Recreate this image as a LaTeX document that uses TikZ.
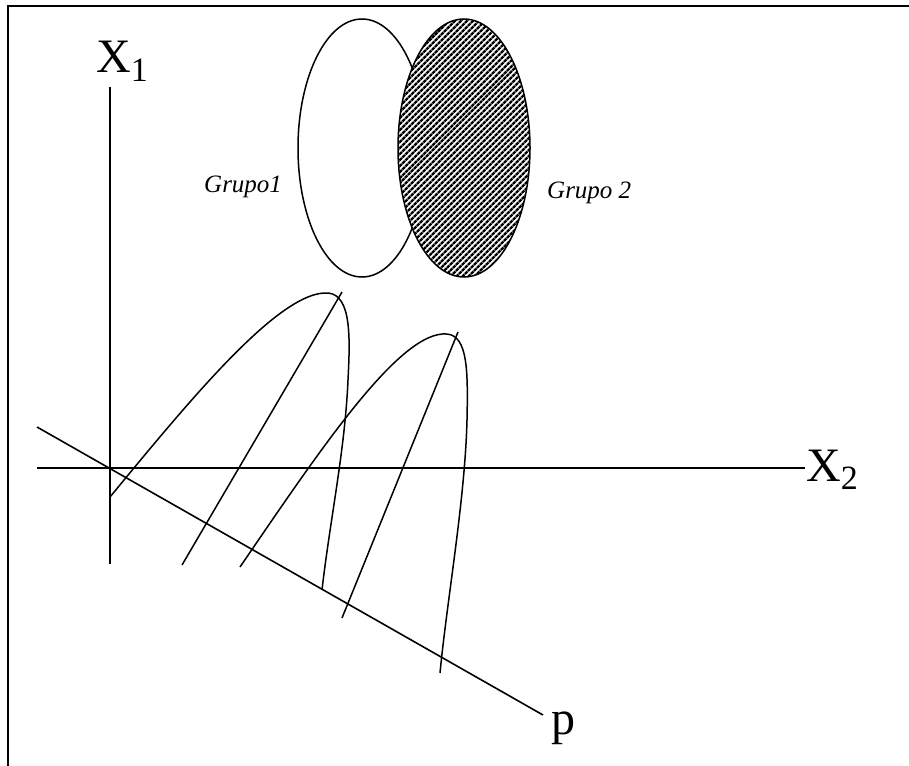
\documentclass[tikz,border=0pt]{standalone}
\usepackage{fontspec}
\setmainfont{Liberation Serif}
\usepackage{tikz}
\usetikzlibrary{shapes.geometric, patterns.meta, calc}
\tikzstyle{axis} = [line width=1.6pt]
\tikzstyle{proj} = [line width=1.5pt]
\tikzstyle{grupo} = [ellipse, draw=black, line width=1.5pt, inner sep=0pt]
\tikzstyle{biglabel} = [inner sep=0pt, anchor=base west, font=\fontsize{48}{48}\selectfont]
\tikzstyle{grouplabel} = [inner sep=0pt, anchor=base west, font=\fontsize{25}{25}\selectfont\itshape]
\newcommand*\subidx[1]{\raisebox{-0.17em}{\fontsize{34}{34}\selectfont #1}}

\begin{document}
\begin{tikzpicture}[x=1pt, y=-1pt]
    \useasboundingbox (0,0) rectangle (909,765);
    \clip (0,0) rectangle (909,765);
    \draw[line width=2pt] (8,6) rectangle (920,780);

    % === AXES ===
    \coordinate (x1top) at (110,87);
    \coordinate (x1bot) at (110,564);
    \coordinate (x2left) at (37,468);
    \coordinate (x2right) at (805,468);
    \draw [axis] (x1top) -- (x1bot);
    \draw [axis] (x2left) -- (x2right);
    \node (lx1) [biglabel] at (96,73) {X\subidx{1}};
    \node (lx2) [biglabel] at (806,481) {X\subidx{2}};

    % projection line p
    \coordinate (pstart) at (37,427);
    \coordinate (pend) at (543,715);
    \draw [axis] (pstart) -- (pend);
    \node (lp) [biglabel] at (551,734) {p};

    % === GROUPS ===
    \node (g1) [grupo, fill=white, minimum width=128pt, minimum height=258pt] at (362,148) {};
    \node (g2) [grupo, preaction={fill=white}, pattern={Lines[angle=45,distance=4pt,line width=2.6pt]}, minimum width=132pt, minimum height=258pt] at (464,148) {};
    \node (lg1) [grouplabel] at (204,192) {Grupo1};
    \node (lg2) [grouplabel] at (547,198) {Grupo 2};

    % === DISTRIBUTIONS ON p ===
    \coordinate (c1s) at (110,497);
    \coordinate (c1e) at (322,590);
    \coordinate (c2s) at (240,567);
    \coordinate (c2e) at (440,673);
    \draw [proj] (c1s) .. controls (190,400) and (280,290) .. (328,293)
        .. controls (352,295) and (350,340) .. (348,380)
        .. controls (345,450) and (330,520) .. (c1e);
    \draw [proj] (c2s) .. controls (320,450) and (400,330) .. (447,334)
        .. controls (468,336) and (468,372) .. (467,420)
        .. controls (465,500) and (447,600) .. (c2e);

    % median lines
    \coordinate (m1t) at (342,292);
    \coordinate (m1b) at (182,565);
    \coordinate (m2t) at (458,332);
    \coordinate (m2b) at (342,618);
    \draw [proj] (m1t) -- (m1b);
    \draw [proj] (m2t) -- (m2b);

\end{tikzpicture}
\end{document}
